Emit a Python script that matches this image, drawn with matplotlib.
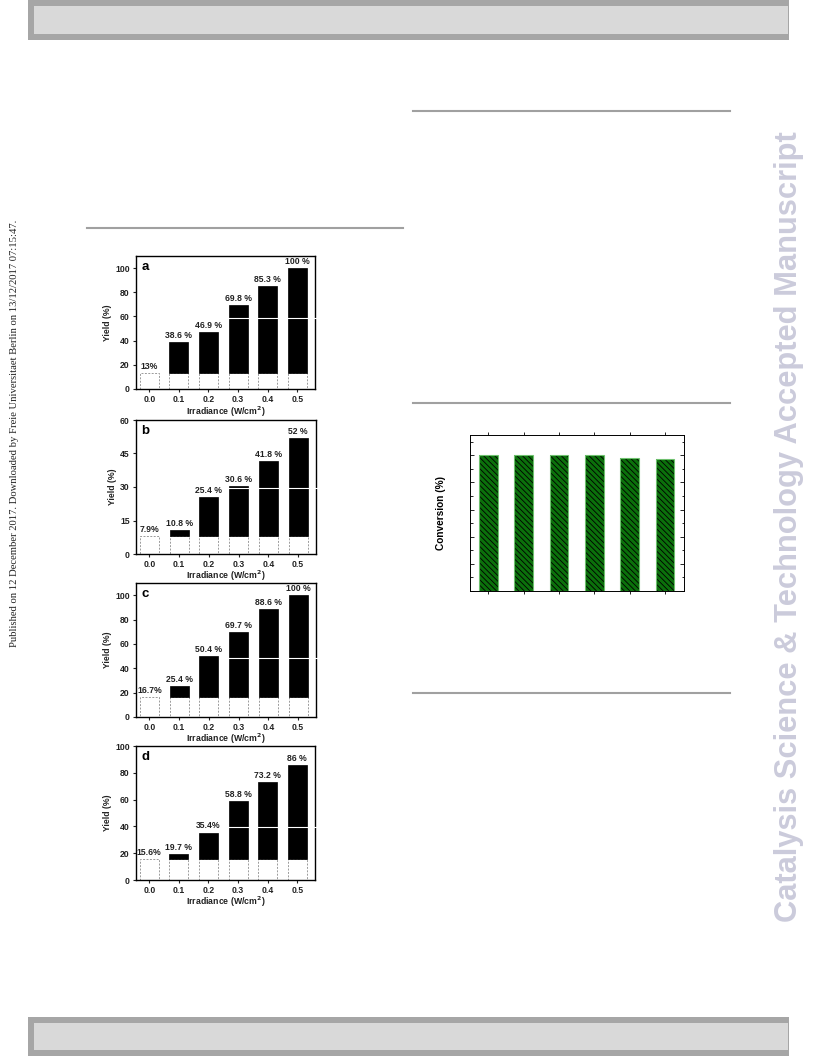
import numpy as np
import matplotlib
matplotlib.use('Agg')
import matplotlib.pyplot as plt
from matplotlib.patches import Rectangle
from matplotlib.lines import Line2D

# page size in pixels (dpi 100)
W, H = 816, 1056

# yield panels a-d: first value is the dark (0.0 W/cm2) yield
irradiance = [0.0, 0.1, 0.2, 0.3, 0.4, 0.5]
irr_labels = ['0.0', '0.1', '0.2', '0.3', '0.4', '0.5']

yield_a = [13, 38.6, 46.9, 69.8, 85.3, 100]
labels_a = ['13%', '38.6 %', '46.9 %', '69.8 %', '85.3 %', '100 %']
yield_b = [7.9, 10.8, 25.4, 30.6, 41.8, 52]
labels_b = ['7.9%', '10.8 %', '25.4 %', '30.6 %', '41.8 %', '52 %']
yield_c = [16.7, 25.4, 50.4, 69.7, 88.6, 100]
labels_c = ['16.7%', '25.4 %', '50.4 %', '69.7 %', '88.6 %', '100 %']
yield_d = [15.6, 19.7, 35.4, 58.8, 73.2, 86]
labels_d = ['15.6%', '19.7 %', '35.4%', '58.8 %', '73.2 %', '86 %']

# recycling chart on the right
runs = [1, 2, 3, 4, 5, 6]
conversion = [100, 100, 100, 100, 98.3, 97.3]

SANS = ['Liberation Sans', 'DejaVu Sans']
plt.rcParams['font.family'] = SANS
plt.rcParams['hatch.linewidth'] = 0.6


def box(x0, y0, x1, y1):
    # pixel box (top-left origin) -> figure fraction rect
    return [x0 / W, 1 - y1 / H, (x1 - x0) / W, (y1 - y0) / H]


fig = plt.figure(figsize=(W / 100, H / 100), dpi=100)


def page_rect(x0, y0, x1, y1, color):
    fig.add_artist(Rectangle((x0 / W, 1 - y1 / H), (x1 - x0) / W, (y1 - y0) / H,
                             transform=fig.transFigure, facecolor=color,
                             edgecolor='none', zorder=0))


def page_line(x0, x1, y, color='#a0a0a0', lw=1.5, z=1):
    fig.add_artist(Line2D([x0 / W, x1 / W], [1 - y / H, 1 - y / H],
                          transform=fig.transFigure, color=color, lw=lw, zorder=z))


# header / footer bars
page_rect(28, 0, 789, 40, '#a6a6a6')
page_rect(34, 6, 788, 34, '#d9d9d9')
page_rect(28, 1017, 789, 1056, '#a6a6a6')
page_rect(34, 1023, 788, 1050, '#d9d9d9')

# column rules
page_line(87, 403, 228)
page_line(413, 730, 111)
page_line(413, 730, 403)
page_line(413, 730, 693)

# side texts
fig.text(15 / W, 1 - 433 / H,
         'Published on 12 December 2017. Downloaded by Freie Universitaet Berlin on 13/12/2017 07:15:47.',
         rotation=90, ha='center', va='center', fontsize=7.7,
         family=['Liberation Serif', 'DejaVu Serif'], color='#222222')
fig.text(789 / W, 1 - 527 / H,
         'Catalysis Science & Technology Accepted Manuscript',
         rotation=90, ha='center', va='center', fontsize=22.2, fontweight='bold',
         color='#cbcbdb')


def yield_panel(rect, letter, values, labels, ylim, yticks, xlabelpad):
    ax = fig.add_axes(rect)
    x = np.array(irradiance)
    vals = np.array(values)
    base = vals[0]
    ax.bar(x, np.full(len(x), base), width=0.064, facecolor='white',
           edgecolor='#9a9a9a', linestyle=(0, (2, 1.5)), linewidth=0.7, zorder=2)
    ax.bar(x[1:], vals[1:] - base, bottom=base, width=0.064, color='black',
           edgecolor='black', linewidth=0.5, zorder=3)
    for xi, v, lab in zip(x, vals, labels):
        ax.annotate(lab, (xi, v), xytext=(0, 1.5), textcoords='offset points',
                    ha='center', va='bottom', fontsize=6.2, fontweight='bold',
                    color='#222222')
    ax.set_xlim(-0.045, 0.56)
    ax.set_ylim(*ylim)
    ax.set_xticks(x)
    ax.set_xticklabels(irr_labels)
    ax.set_yticks(yticks)
    ax.tick_params(direction='out', length=2.5, width=0.8, labelsize=6.2,
                   pad=2, colors='#222222')
    for lab in ax.get_xticklabels() + ax.get_yticklabels():
        lab.set_fontweight('bold')
    for s in ax.spines.values():
        s.set_linewidth(1.0)
    ax.set_ylabel('Yield (%)', fontsize=6.2, fontweight='bold', labelpad=2,
                  color='#222222')
    ax.set_xlabel('Irradiance (W/cm$^\\mathbf{2}$)', fontsize=6.3, fontweight='bold',
                  labelpad=xlabelpad, color='#222222')
    ax.text(0.03, 0.96, letter, transform=ax.transAxes, ha='left', va='top',
            fontsize=9.5, fontweight='bold')
    return ax


yield_panel(box(136, 256, 315, 389), 'a', yield_a, labels_a, (0, 110),
            [0, 20, 40, 60, 80, 100], 0.5)
yield_panel(box(136, 420, 316, 554), 'b', yield_b, labels_b, (0, 60),
            [0, 15, 30, 45, 60], -0.3)
yield_panel(box(136, 583, 316, 717), 'c', yield_c, labels_c, (0, 110),
            [0, 20, 40, 60, 80, 100], -0.3)
yield_panel(box(136, 746, 315, 880), 'd', yield_d, labels_d, (0, 100),
            [0, 20, 40, 60, 80, 100], -0.3)

# white scan artefact lines crossing the panels
for yy in [318, 488, 658, 827]:
    page_line(222, 322, yy, color='white', lw=0.8, z=10)

# conversion chart
ax = fig.add_axes(box(470, 435, 684, 591))
ax.bar(runs, conversion, width=0.53, facecolor='#0b700b', edgecolor='black',
       hatch='\\\\\\\\\\\\', linewidth=0, zorder=2)
ax.bar(runs, conversion, width=0.53, fill=False, edgecolor='#6fc06f',
       linewidth=0.8, zorder=3)
ax.set_xlim(0.48, 6.54)
ax.set_ylim(0, 115)
ax.set_xticks(runs)
ax.set_yticks([0, 20, 40, 60, 80, 100])
ax.set_yticks([10, 30, 50, 70, 90, 110], minor=True)
ax.tick_params(axis='x', direction='out', length=2.5, width=0.6, top=True,
               labelbottom=False)
ax.tick_params(axis='y', which='both', direction='in', width=0.6, right=True,
               labelleft=False)
ax.tick_params(axis='y', which='major', length=3)
ax.tick_params(axis='y', which='minor', length=1.8)
for s in ax.spines.values():
    s.set_linewidth(0.7)
ax.set_ylabel('Conversion (%)', fontsize=7.3, fontweight='bold', labelpad=17)

fig.savefig('out.png', dpi=100)
